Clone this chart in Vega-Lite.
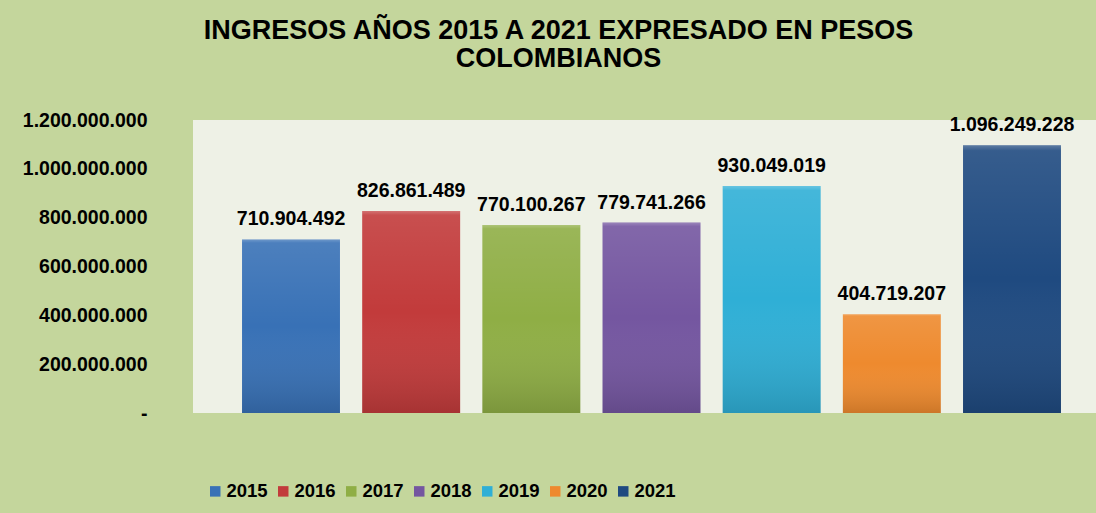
{
  "$schema": "https://vega.github.io/schema/vega-lite/v6.json",
  "autosize": "none",
  "width": 903,
  "height": 293,
  "padding": {"left": 193, "top": 120, "right": 0, "bottom": 100},
  "background": "#C4D69C",
  "config": {
    "locale": {"number": {"decimal": ",", "thousands": ".", "grouping": [3], "currency": ["$", ""]}},
    "view": {"stroke": null, "fill": "#EEF1E6"},
    "font": "Liberation Sans"
  },
  "title": {
    "text": ["INGRESOS AÑOS 2015 A 2021 EXPRESADO EN PESOS", "COLOMBIANOS"],
    "font": "Liberation Sans",
    "fontSize": 27,
    "fontWeight": "bold",
    "color": "#000000",
    "lineHeight": 28,
    "anchor": "middle",
    "frame": "group",
    "dx": -86,
    "offset": 37
  },
  "data": {
    "values": [
      {"anio": "2015", "valor": 710904492},
      {"anio": "2016", "valor": 826861489},
      {"anio": "2017", "valor": 770100267},
      {"anio": "2018", "valor": 779741266},
      {"anio": "2019", "valor": 930049019},
      {"anio": "2020", "valor": 404719207},
      {"anio": "2021", "valor": 1096249228}
    ]
  },
  "encoding": {
    "x": {
      "field": "anio",
      "type": "nominal",
      "axis": null,
      "scale": {"range": [25, 892], "paddingInner": 0.185, "paddingOuter": 0.2}
    },
    "y": {
      "field": "valor",
      "type": "quantitative",
      "scale": {"domain": [0, 1200000000], "nice": false},
      "axis": {
        "title": null,
        "values": [0, 200000000, 400000000, 600000000, 800000000, 1000000000, 1200000000],
        "format": ",d",
        "labelExpr": "datum.value === 0 ? '-\u00a0\u00a0' : datum.label",
        "domain": false,
        "ticks": false,
        "grid": false,
        "labelPadding": 46,
        "labelFont": "Liberation Sans",
        "labelFontSize": 19.5,
        "labelFontWeight": "bold",
        "labelColor": "#000000"
      }
    }
  },
  "layer": [
    {
      "mark": {"type": "bar"},
      "encoding": {
        "color": {
          "field": "anio",
          "type": "nominal",
          "scale": {
            "domain": ["2015", "2016", "2017", "2018", "2019", "2020", "2021"],
            "range": ["#3871B6", "#C23B3B", "#8FAE45", "#7456A0", "#2FAFD6", "#EE8A2E", "#1F4A80"]
          },
          "legend": {
            "title": null,
            "orient": "none",
            "legendX": 13,
            "legendY": 362,
            "direction": "horizontal",
            "columns": 7,
            "symbolType": "square",
            "symbolSize": 110,
            "symbolStrokeWidth": 0,
            "labelFont": "Liberation Sans",
            "labelFontSize": 18.5,
            "labelFontWeight": "bold",
            "labelColor": "#000000",
            "labelOffset": 2,
            "columnPadding": 6
          }
        }
      }
    },
    {
      "mark": {
        "type": "bar",
        "color": {
          "gradient": "linear",
          "x1": 0, "y1": 0, "x2": 0, "y2": 1,
          "stops": [
            {"offset": 0, "color": "rgba(255,255,255,0.28)"},
            {"offset": 0.02, "color": "rgba(255,255,255,0.10)"},
            {"offset": 0.5, "color": "rgba(255,255,255,0.0)"},
            {"offset": 1, "color": "rgba(0,0,0,0.14)"}
          ]
        }
      },
      "encoding": {}
    },
    {
      "mark": {"type": "text", "baseline": "middle", "dy": -20, "font": "Liberation Sans", "fontSize": 19.5, "fontWeight": "bold", "color": "#000000"},
      "encoding": {
        "text": {"field": "valor", "type": "quantitative", "format": ",d"}
      }
    }
  ]
}
